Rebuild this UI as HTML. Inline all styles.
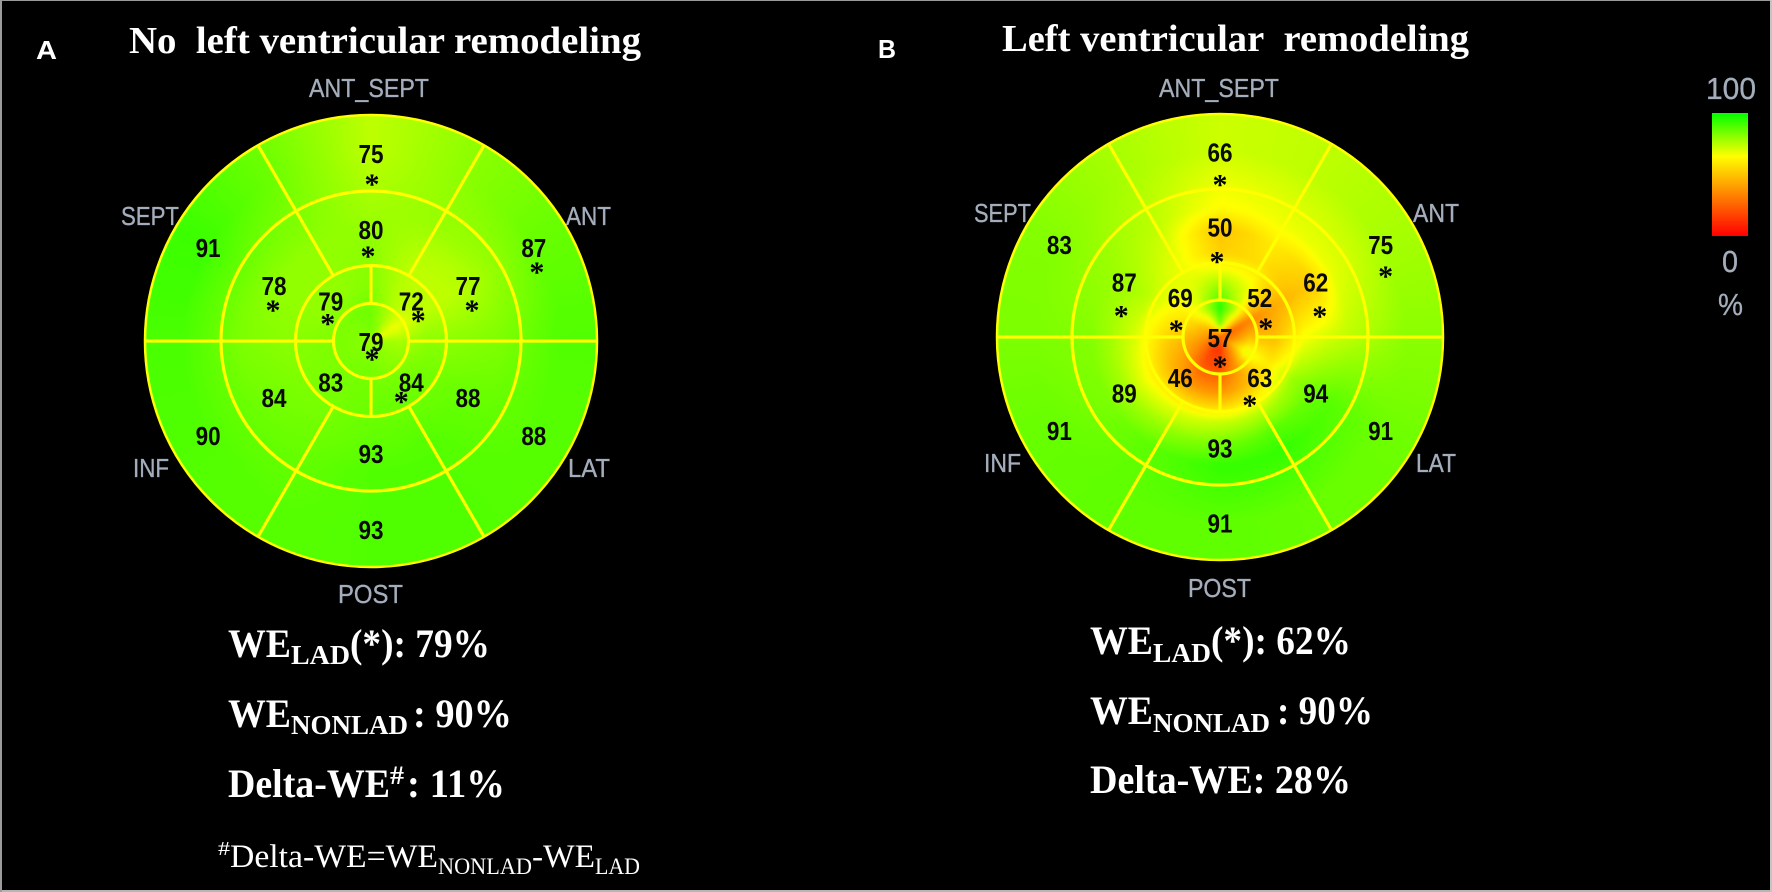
<!DOCTYPE html>
<html lang="en">
<head>
<meta charset="utf-8">
<title>Bull's-eye work efficiency maps</title>
<style>
html,body{margin:0;padding:0;background:#000;}
body{width:1772px;height:892px;overflow:hidden;}
svg{display:block;}
.ttl{font-family:"Liberation Serif",serif;font-weight:bold;fill:#fff;}
.foot{font-family:"Liberation Serif",serif;fill:#fff;}
.pl{font-family:"Liberation Sans",sans-serif;font-weight:bold;fill:#fff;font-size:26px;}
.lab{font-family:"Liberation Sans",sans-serif;fill:#a4adbb;stroke:#a4adbb;stroke-width:.35;font-size:26px;}
.leg{font-family:"Liberation Sans",sans-serif;fill:#a4adbb;stroke:#a4adbb;stroke-width:.3;font-size:31px;}
.num{font-family:"Liberation Sans",sans-serif;font-weight:bold;fill:#0a0a00;font-size:26px;}
.star{font-family:"Liberation Serif",serif;font-weight:bold;fill:#000;font-size:30px;}
</style>
</head>
<body>
<svg id="fig" xmlns="http://www.w3.org/2000/svg" width="1772" height="892" viewBox="0 0 1772 892">
  <defs>
    <filter id="soft" x="-5%" y="-5%" width="110%" height="110%"><feGaussianBlur stdDeviation="1.6"/></filter>
    <clipPath id="clipA"><circle cx="371" cy="341" r="227"/></clipPath>
    <clipPath id="clipB"><circle cx="1220" cy="337" r="224"/></clipPath>
    <linearGradient id="legendGrad" x1="0" y1="0" x2="0" y2="1">
      <stop offset="0" stop-color="#00ff00"/>
      <stop offset="0.35" stop-color="#ffff00"/>
      <stop offset="1" stop-color="#ff0000"/>
    </linearGradient>
  </defs>
  <rect x="0" y="0" width="1772" height="892" fill="#000"/>
  <rect x="0" y="0" width="1772" height="1" fill="#9a9a9a"/>
  <rect x="0" y="890" width="1772" height="2" fill="#b5b5b5"/>
  <rect x="0" y="0" width="2" height="892" fill="#9c9c9c"/>
  <rect x="1770" y="0" width="2" height="892" fill="#c4c4c4"/>

  <text class="pl" x="36" y="59" textLength="21" lengthAdjust="spacingAndGlyphs">A</text>
  <text class="pl" x="878" y="58" textLength="18" lengthAdjust="spacingAndGlyphs">B</text>
  <text class="ttl" x="129" y="53" font-size="38" textLength="512" lengthAdjust="spacingAndGlyphs">No&#160;&#160;left ventricular remodeling</text>
  <text class="ttl" x="1002" y="51" font-size="38" textLength="467" lengthAdjust="spacingAndGlyphs">Left ventricular&#160;&#160;remodeling</text>

  <g id="panelA"></g>
  <g id="panelB"></g>

  <g>
    <text class="leg" x="1706" y="99" textLength="50" lengthAdjust="spacingAndGlyphs">100</text>
    <rect x="1712" y="113" width="36" height="123" fill="url(#legendGrad)"/>
    <text class="leg" x="1722" y="272" textLength="16" lengthAdjust="spacingAndGlyphs">0</text>
    <text class="leg" x="1718" y="315" textLength="25" lengthAdjust="spacingAndGlyphs">%</text>
  </g>

  <g>
    <g>
      <text class="ttl" x="228" y="657" font-size="40" textLength="63" lengthAdjust="spacingAndGlyphs">WE</text>
      <text class="ttl" x="291" y="664" font-size="27" textLength="59" lengthAdjust="spacingAndGlyphs">LAD</text>
      <text class="ttl" x="350" y="657" font-size="40" textLength="140" lengthAdjust="spacingAndGlyphs">(*): 79%</text>
    </g>
    <g>
      <text class="ttl" x="228" y="727" font-size="40" textLength="63" lengthAdjust="spacingAndGlyphs">WE</text>
      <text class="ttl" x="291" y="734" font-size="27" textLength="117" lengthAdjust="spacingAndGlyphs">NONLAD</text>
      <text class="ttl" x="413" y="727" font-size="40" textLength="99" lengthAdjust="spacingAndGlyphs">: 90%</text>
    </g>
    <g>
      <text class="ttl" x="228" y="797" font-size="40" textLength="162" lengthAdjust="spacingAndGlyphs">Delta-WE</text>
      <text class="ttl" x="390" y="784" font-size="26" textLength="14" lengthAdjust="spacingAndGlyphs">#</text>
      <text class="ttl" x="407" y="797" font-size="40" textLength="98" lengthAdjust="spacingAndGlyphs">: 11%</text>
    </g>
    <g>
      <text class="foot" x="218" y="855" font-size="20" textLength="12" lengthAdjust="spacingAndGlyphs">#</text>
      <text class="foot" x="230" y="867" font-size="33" textLength="208" lengthAdjust="spacingAndGlyphs">Delta-WE=WE</text>
      <text class="foot" x="438" y="874" font-size="23" textLength="94" lengthAdjust="spacingAndGlyphs">NONLAD</text>
      <text class="foot" x="532" y="867" font-size="33" textLength="63" lengthAdjust="spacingAndGlyphs">-WE</text>
      <text class="foot" x="595" y="874" font-size="23" textLength="45" lengthAdjust="spacingAndGlyphs">LAD</text>
    </g>
  </g>
  <g>
    <g>
      <text class="ttl" x="1090" y="654" font-size="40" textLength="63" lengthAdjust="spacingAndGlyphs">WE</text>
      <text class="ttl" x="1153" y="662" font-size="27" textLength="58" lengthAdjust="spacingAndGlyphs">LAD</text>
      <text class="ttl" x="1211" y="654" font-size="40" textLength="140" lengthAdjust="spacingAndGlyphs">(*): 62%</text>
    </g>
    <g>
      <text class="ttl" x="1090" y="724" font-size="40" textLength="63" lengthAdjust="spacingAndGlyphs">WE</text>
      <text class="ttl" x="1153" y="732" font-size="27" textLength="117" lengthAdjust="spacingAndGlyphs">NONLAD</text>
      <text class="ttl" x="1277" y="724" font-size="40" textLength="96" lengthAdjust="spacingAndGlyphs">: 90%</text>
    </g>
    <text class="ttl" x="1090" y="793" font-size="40" textLength="261" lengthAdjust="spacingAndGlyphs">Delta-WE: 28%</text>
  </g>
</svg>
<script>
// Printed segment values, clockwise from the top of each ring
const basalA = [75, 87, 88, 93, 90, 91];
const midA = [80, 77, 88, 93, 84, 78];
const apicalA = [72, 84, 83, 79];
const apexA = 79;
const basalB = [66, 75, 91, 91, 91, 83];
const midB = [50, 62, 94, 93, 89, 87];
const apicalB = [52, 63, 46, 69];
const apexB = 57;

// Heat samples: one row per ring, 12 values clockwise from the top
const heatCoreA = 78;
const heatRow1A = [84, 80, 68, 78, 80, 81, 82, 82, 82, 82, 82, 83];
const heatRow2A = [85, 77, 67, 77, 80, 82, 84, 84, 83, 83, 83, 84];
const heatRow3A = [82, 75, 74, 81, 84, 85, 85, 84, 83, 82, 80, 80];
const heatRow4A = [81, 74, 74, 81, 85, 86, 86, 84, 83, 81, 80, 80];
const heatRow5A = [80, 76, 75, 82, 86, 88, 87, 85, 84, 82, 80, 80];
const heatRow6A = [78, 79, 78, 83, 86, 89, 89, 86, 85, 83, 83, 82];
const heatRow7A = [74, 81, 86, 89, 88, 89, 89, 88, 89, 90, 92, 85];

const heatCoreB = 25;
const heatRow1B = [85, 60, 25, 33, 43, 30, 13, 15, 28, 38, 43, 59];
const heatRow2B = [96, 73, 31, 48, 70, 38, 18, 20, 36, 46, 56, 73];
const heatRow3B = [77, 68, 41, 48, 60, 48, 38, 38, 46, 55, 64, 69];
const heatRow4B = [53, 57, 48, 66, 79, 74, 72, 69, 66, 70, 75, 68];
const heatRow5B = [50, 60, 52, 71, 85, 88, 84, 80, 77, 77, 78, 71];
const heatRow6B = [64, 67, 68, 74, 88, 93, 93, 88, 83, 82, 79, 74];
const heatRow7B = [72, 74, 77, 81, 85, 86, 87, 87, 86, 83, 82, 77];

// Which segments carry an LAD asterisk
const starsBasalA = [1, 1, 0, 0, 0, 0];
const starsMidA = [1, 1, 0, 0, 0, 1];
const starsApicalA = [1, 1, 0, 1];
const starsApexA = 1;
const starsBasalB = [1, 1, 0, 0, 0, 0];
const starsMidB = [1, 1, 0, 0, 0, 1];
const starsApicalB = [1, 1, 0, 1];
const starsApexB = 1;

// Layout only (not data)
const NS = 'http://www.w3.org/2000/svg';
const ringFractions = { basal: 188 / 227, mid: 112 / 227, apical: 57 / 227 };
const boundaryFractions = [150 / 227, 75.5 / 227, 37.5 / 227];
const heatFractions = [12 / 227, 30 / 227, 56 / 227, 85 / 227, 108 / 227, 130 / 227, 188 / 227];

function heatColor(v) {
  const t = Math.max(0, Math.min(100, v));
  let red, green;
  if (t >= 65) {
    red = 255 * (100 - t) / 35;
    green = 255;
  } else {
    red = 255;
    green = 255 * t / 65;
  }
  return 'rgb(' + Math.round(red) + ',' + Math.round(green) + ',0)';
}

function sampleRow(row, deg) {
  const a = ((deg % 360) + 360) % 360 / 30;
  const i = Math.floor(a) % 12;
  const f = a - Math.floor(a);
  return row[i] * (1 - f) + row[(i + 1) % 12] * f;
}

function heatAt(rows, core, frac, deg) {
  if (frac <= heatFractions[0]) {
    const f = frac / heatFractions[0];
    return core * (1 - f) + sampleRow(rows[0], deg) * f;
  }
  for (let i = 1; i < heatFractions.length; i++) {
    if (frac <= heatFractions[i]) {
      const f = (frac - heatFractions[i - 1]) / (heatFractions[i] - heatFractions[i - 1]);
      return sampleRow(rows[i - 1], deg) * (1 - f) + sampleRow(rows[i], deg) * f;
    }
  }
  return sampleRow(rows[rows.length - 1], deg);
}

function drawHeat(parent, cfg) {
  const g = document.createElementNS(NS, 'g');
  g.setAttribute('filter', 'url(#soft)');
  
  
  const step = 3;
  for (let y = -cfg.r - 6; y <= cfg.r + 6; y += step) {
    for (let x = -cfg.r - 6; x <= cfg.r + 6; x += step) {
      const d = Math.hypot(x + step / 2, y + step / 2);
      if (d > cfg.r + 7) continue;
      const deg = Math.atan2(x + step / 2, -(y + step / 2)) * 180 / Math.PI;
      const cell = document.createElementNS(NS, 'rect');
      cell.setAttribute('x', cfg.cx + x);
      cell.setAttribute('y', cfg.cy + y);
      cell.setAttribute('width', step + 0.5);
      cell.setAttribute('height', step + 0.5);
      cell.setAttribute('fill', heatColor(heatAt(cfg.heat, cfg.core, d / cfg.r, deg)));
      
      
      g.appendChild(cell);
    }
  }
  const clip = document.createElementNS(NS, 'g');
  clip.setAttribute('clip-path', 'url(#' + cfg.clip + ')');
  
  
  clip.appendChild(g);
  parent.appendChild(clip);
}

function drawGrid(parent, cfg) {
  const g = document.createElementNS(NS, 'g');
  g.setAttribute('stroke', '#ffff00');
  g.setAttribute('fill', 'none');
  
  
  const outer = document.createElementNS(NS, 'circle');
  outer.setAttribute('cx', cfg.cx);
  outer.setAttribute('cy', cfg.cy);
  outer.setAttribute('r', cfg.r - 1);
  outer.setAttribute('stroke-width', '2.5');
  
  
  g.appendChild(outer);
  boundaryFractions.forEach(function (f) {
    const ring = document.createElementNS(NS, 'circle');
    ring.setAttribute('cx', cfg.cx);
    ring.setAttribute('cy', cfg.cy);
    ring.setAttribute('r', cfg.r * f);
    ring.setAttribute('stroke-width', '3.2');
    
    
    g.appendChild(ring);
  });
  function spoke(deg, f0, f1) {
    const a = deg * Math.PI / 180;
    const line = document.createElementNS(NS, 'line');
    line.setAttribute('x1', cfg.cx + Math.sin(a) * cfg.r * f0);
    line.setAttribute('y1', cfg.cy - Math.cos(a) * cfg.r * f0);
    line.setAttribute('x2', cfg.cx + Math.sin(a) * cfg.r * f1);
    line.setAttribute('y2', cfg.cy - Math.cos(a) * cfg.r * f1);
    line.setAttribute('stroke-width', '3.2');
    
    
    g.appendChild(line);
  }
  [30, 150, 210, 330].forEach(function (deg) { spoke(deg, boundaryFractions[1], 0.995); });
  [90, 270].forEach(function (deg) { spoke(deg, boundaryFractions[2], 0.995); });
  [0, 180].forEach(function (deg) { spoke(deg, boundaryFractions[2], boundaryFractions[1]); });
  parent.appendChild(g);
}

function addValue(parent, cfg, value, deg, frac, hasStar, starOffset, name) {
  const a = deg * Math.PI / 180;
  const x = cfg.cx + Math.sin(a) * cfg.r * frac;
  const y = cfg.cy - Math.cos(a) * cfg.r * frac + 1;
  const t = document.createElementNS(NS, 'text');
  t.setAttribute('class', 'num');
  t.setAttribute('x', x);
  t.setAttribute('y', y + 9);
  t.setAttribute('text-anchor', 'middle');
  t.setAttribute('textLength', '25');
  t.setAttribute('lengthAdjust', 'spacingAndGlyphs');
  
  
  t.textContent = value;
  parent.appendChild(t);
  if (hasStar) {
    const s = document.createElementNS(NS, 'text');
    s.setAttribute('class', 'star');
    s.setAttribute('x', x + starOffset[0]);
    s.setAttribute('y', y + starOffset[1] + 14);
    s.setAttribute('text-anchor', 'middle');
    
    
    s.textContent = '*';
    parent.appendChild(s);
  }
}

function drawValues(parent, cfg) {
  const g = document.createElementNS(NS, 'g');
  
  
  cfg.basal.forEach(function (v, i) {
    addValue(g, cfg, v, i * 60, ringFractions.basal, cfg.starsBasal[i], cfg.starBasalOffset[i], 'basal-segment-value');
  });
  cfg.mid.forEach(function (v, i) {
    addValue(g, cfg, v, i * 60, ringFractions.mid, cfg.starsMid[i], cfg.starMidOffset[i], 'mid-segment-value');
  });
  cfg.apical.forEach(function (v, i) {
    addValue(g, cfg, v, 45 + i * 90, ringFractions.apical, cfg.starsApical[i], cfg.starApicalOffset[i], 'apical-segment-value');
  });
  addValue(g, cfg, cfg.apex, 0, 0, cfg.starsApex, cfg.starApexOffset, 'apex-segment-value');
  parent.appendChild(g);
}

function drawLabels(parent, labels) {
  labels.forEach(function (l) {
    const t = document.createElementNS(NS, 'text');
    t.setAttribute('class', 'lab');
    t.setAttribute('x', l.x);
    t.setAttribute('y', l.y);
    t.setAttribute('textLength', l.w);
    t.setAttribute('lengthAdjust', 'spacingAndGlyphs');
    
    
    t.textContent = l.t;
    parent.appendChild(t);
  });
}

const panels = [
  {
    id: 'panelA', cx: 371, cy: 341, r: 227, clip: 'clipA',
    heat: [heatRow1A, heatRow2A, heatRow3A, heatRow4A, heatRow5A, heatRow6A, heatRow7A], core: heatCoreA,
    basal: basalA, mid: midA, apical: apicalA, apex: apexA,
    starsBasal: starsBasalA, starsMid: starsMidA, starsApical: starsApicalA, starsApex: starsApexA,
    starBasalOffset: [[1, 26], [3, 20], [0, 0], [0, 0], [0, 0], [0, 0]],
    starMidOffset: [[-3, 22], [4, 20], [0, 0], [0, 0], [0, 0], [-1, 20]],
    starApicalOffset: [[7, 15], [-10, 15], [0, 0], [-3, 18]],
    starApexOffset: [1, 13],
    labels: [
      { t: 'ANT_SEPT', x: 309, y: 97, w: 120 }, { t: 'SEPT', x: 121, y: 225, w: 58 },
      { t: 'ANT', x: 566, y: 225, w: 45 }, { t: 'INF', x: 133, y: 477, w: 36 },
      { t: 'LAT', x: 568, y: 477, w: 42 }, { t: 'POST', x: 338, y: 603, w: 65 }
    ]
  },
  {
    id: 'panelB', cx: 1220, cy: 337, r: 224, clip: 'clipB',
    heat: [heatRow1B, heatRow2B, heatRow3B, heatRow4B, heatRow5B, heatRow6B, heatRow7B], core: heatCoreB,
    basal: basalB, mid: midB, apical: apicalB, apex: apexB,
    starsBasal: starsBasalB, starsMid: starsMidB, starsApical: starsApicalB, starsApex: starsApexB,
    starBasalOffset: [[0, 28], [5, 27], [0, 0], [0, 0], [0, 0], [0, 0]],
    starMidOffset: [[-3, 30], [4, 29.5], [0, 0], [0, 0], [0, 0], [-3, 29]],
    starApicalOffset: [[6, 26], [-10, 23], [0, 0], [-4, 28]],
    starApexOffset: [0, 24],
    labels: [
      { t: 'ANT_SEPT', x: 1159, y: 97, w: 120 }, { t: 'SEPT', x: 974, y: 222, w: 57 },
      { t: 'ANT', x: 1413, y: 222, w: 46 }, { t: 'INF', x: 984, y: 472, w: 37 },
      { t: 'LAT', x: 1416, y: 472, w: 40 }, { t: 'POST', x: 1188, y: 597, w: 63 }
    ]
  }
];

panels.forEach(function (cfg) {
  const root = document.getElementById(cfg.id);
  drawLabels(root, cfg.labels);
  drawHeat(root, cfg);
  drawGrid(root, cfg);
  drawValues(root, cfg);
});
</script>
</body>
</html>
